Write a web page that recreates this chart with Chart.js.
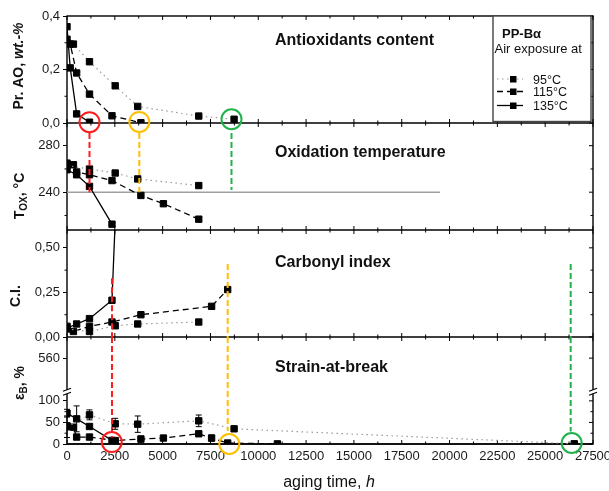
<!DOCTYPE html>
<html><head><meta charset="utf-8">
<script src="https://cdn.jsdelivr.net/npm/chart.js@4"></script>
<style>html,body{margin:0;padding:0;background:#fff;}canvas{display:block;}</style>
</head><body>
<canvas id="c" width="609" height="491"></canvas>
<script>
const FONT = '"Liberation Sans", Arial, Helvetica, sans-serif';

// ---------- data ----------
const xTicks = [0,2500,5000,7500,10000,12500,15000,17500,20000,22500,25000,27500];
const seriesNames = ['95°C', '115°C', '135°C'];

// Antioxidants content, wt.-%
const aoHours95  = [0, 336, 1176, 2520, 3696, 6888, 8736];
const ao95       = [0.30, 0.295, 0.229, 0.139, 0.062, 0.026, 0.014];
const aoHours115 = [0, 168, 504, 1176, 2352, 3864];
const ao115      = [0.313, 0.295, 0.187, 0.108, 0.027, 0.001];
const aoHours135 = [0, 168, 504, 1176];
const ao135      = [0.36, 0.206, 0.034, 0.003];

// Oxidation temperature, °C
const toxHours95  = [0, 1176, 2520, 3696, 6888];
const tox95       = [263, 259.9, 256.5, 251.4, 245.7];
const toxHours115 = [0, 336, 504, 1176, 2352, 3864, 5040, 6888];
const tox115      = [265, 263.6, 257.4, 255, 250, 237.2, 230.1, 216.8];
const toxHours135 = [0, 504, 1176, 2352];
const tox135      = [259.3, 255, 245, 212.5];
const toxRefHours = [0, 19500];
const toxRef      = [240, 240];

// Carbonyl index
const ciHours95  = [0, 1176, 2520, 3696, 6888];
const ci95       = [0.045, 0.031, 0.063, 0.073, 0.084];
const ciHours115 = [0, 336, 1176, 2352, 3864, 7560, 8400];
const ci115      = [0.06, 0.031, 0.06, 0.084, 0.125, 0.172, 0.266];
const ciHours135 = [0, 504, 1176, 2352, 2520];
const ci135      = [0.05, 0.073, 0.103, 0.206, 0.65];

// Strain-at-break, % (with error bars)
const ebHours95  = [0, 1176, 2520, 3696, 6888, 8736, 26520];
const eb95       = [40, 67.5, 46.8, 46, 53.7, 35.2, 0.5];
const ebErr95    = [25, 11.5, 12.7, 19, 13.5, 0, 0];
const ebHours115 = [0, 336, 504, 1176, 2520, 3864, 5040, 6888, 7560, 8400, 11000];
const eb115      = [42, 39, 16.1, 16.1, 8, 11.5, 13.8, 23.7, 13.8, 2.3, 0.3];
const ebErr115   = [0, 0, 0, 0, 0, 7, 0, 0, 7, 0, 0];
const ebHours135 = [0, 504, 1176, 2352];
const eb135      = [71.4, 58.3, 40.6, 8.3];
const ebErr135   = [9, 30, 0, 0];

// end-of-life markers (circles) and guide lines
const markAOHours = [1176, 3780, 8600];
const markAO      = [0.003, 0.004, 0.014];
const markEBHours = [2340, 8485, 26385];
const markEB      = [4.6, 0, 2.3];
const guide1Hours = [1176, 3780, 8600];
const guide1Top   = [291, 291, 291];
const guide1Bot   = [240, 240, 242];
const guide2Hours = [2352, 8400, 26333];
const guide2CITop = [0.33, 0.41, 0.41];
const guide2EBEnd = [15, 30, 29];

// axes
const aoRange = [0, 0.4], aoTicks = [0, 0.2, 0.4], aoLabels = ['0,0', '0,2', '0,4'], aoMinor = [0.1, 0.3];
const tRange = [207.5, 299.5], tTicks = [240, 280], tLabels = ['240', '280'], tMinor = [220, 260];
const ciRange = [0, 0.6], ciTicks = [0, 0.25, 0.5], ciLabels = ['0,00', '0,25', '0,50'], ciMinor = [0.125, 0.375];
const ebRange = [0, 248], ebTicks = [0, 50, 100, 199], ebLabels = ['0', '50', '100', '560'], ebMinor = [25, 75];
const ebBreak = 121;

// ---------- styles ----------
const markColors = ['#ff1c1c', '#ffbf00', '#22b24c'];
const lineStyles = [
  {borderColor: '#9a9a9a', borderDash: [1.5, 3.5], borderWidth: 1.2},
  {borderColor: '#000', borderDash: [6, 4], borderWidth: 1.3},
  {borderColor: '#000', borderDash: [], borderWidth: 1.3}
];
const pts = (xs, ys) => xs.map((x, i) => ({x, y: ys[i]}));
function series(xs, ys, axis, s) {
  return Object.assign({data: pts(xs, ys), yAxisID: axis, pointStyle: 'rect', pointRadius: 4.5,
    pointBackgroundColor: '#000', pointBorderColor: '#000', pointBorderWidth: 1, tension: 0, fill: false}, lineStyles[s]);
}
function guide(x, y1, y2, axis, color) {
  return {data: [{x, y: y1}, {x, y: y2}], yAxisID: axis, borderColor: color, borderDash: [6, 3],
    borderWidth: 2, pointRadius: 0, clip: false, order: -1};
}
function circles(xs, ys, axis) {
  return {data: pts(xs, ys), yAxisID: axis, showLine: false, pointStyle: 'circle', pointRadius: 10,
    pointBorderWidth: 2, pointBackgroundColor: 'rgba(0,0,0,0)',
    pointBorderColor: markColors, clip: false, order: -2};
}

const datasets = [
  series(aoHours95, ao95, 'yAO', 0), series(aoHours115, ao115, 'yAO', 1), series(aoHours135, ao135, 'yAO', 2),
  series(toxHours95, tox95, 'yT', 0), series(toxHours115, tox115, 'yT', 1), series(toxHours135, tox135, 'yT', 2),
  {data: pts(toxRefHours, toxRef), yAxisID: 'yT', borderColor: '#a0a0a0', borderWidth: 1.5, pointRadius: 0, order: 5},
  series(ciHours95, ci95, 'yCI', 0), series(ciHours115, ci115, 'yCI', 1), series(ciHours135, ci135, 'yCI', 2),
  series(ebHours95, eb95, 'yEB', 0), series(ebHours115, eb115, 'yEB', 1), series(ebHours135, eb135, 'yEB', 2),
  circles(markAOHours, markAO, 'yAO'),
  circles(markEBHours, markEB, 'yEB'),
];
guide1Hours.forEach((h, i) => datasets.push(guide(h, guide1Top[i], guide1Bot[i], 'yT', markColors[i])));
guide2Hours.forEach((h, i) => {
  datasets.push(guide(h, guide2CITop[i], ciRange[0], 'yCI', markColors[i]));
  datasets.push(guide(h, ebRange[1], guide2EBEnd[i], 'yEB', markColors[i]));
});

function yAxis(range, vals, labels) {
  return {
    type: 'linear', position: 'left', stack: 'panels', stackWeight: 1, min: range[0], max: range[1],
    afterBuildTicks: ax => { ax.ticks = vals.map(v => ({value: v})); },
    ticks: {callback: v => { const i = vals.indexOf(v); return i >= 0 ? labels[i] : ''; },
      font: {size: 13, family: FONT}, color: '#1a1a1a', padding: 3, autoSkip: false, maxRotation: 0},
    grid: {display: true, drawOnChartArea: false, drawTicks: true, tickLength: 4, color: '#000', lineWidth: 1},
    border: {display: false},
    afterFit: ax => { ax.width = 67; }
  };
}

function seg(ctx, x1, y1, x2, y2) { ctx.beginPath(); ctx.moveTo(x1, y1); ctx.lineTo(x2, y2); ctx.stroke(); }
function rich(ctx, segs, cx, cy, rot) {
  ctx.save(); ctx.translate(cx, cy); if (rot) ctx.rotate(rot);
  let total = 0;
  segs.forEach(s => { ctx.font = s.f; s.w = ctx.measureText(s.t).width; total += s.w; });
  let x = -total / 2; ctx.textAlign = 'left'; ctx.textBaseline = 'alphabetic';
  segs.forEach(s => { ctx.font = s.f; ctx.fillText(s.t, x, s.dy || 0); x += s.w; });
  ctx.restore();
}

const frame = {
  id: 'frame',
  beforeDatasetsDraw(chart) {
    const {ctx, chartArea: a, scales} = chart;
    const xs = scales.x;
    const panels = [scales.yAO, scales.yT, scales.yCI, scales.yEB];
    const majors = [aoTicks, tTicks, ciTicks, ebTicks];
    const minors = [aoMinor, tMinor, ciMinor, ebMinor];
    ctx.save();
    ctx.strokeStyle = '#000'; ctx.lineWidth = 1.4;
    ctx.strokeRect(a.left, a.top, a.right - a.left, a.bottom - a.top);
    panels.forEach(p => seg(ctx, a.left, p.bottom, a.right, p.bottom));
    ctx.lineWidth = 1;
    const bounds = [a.top].concat(panels.map(p => p.bottom));
    const xMinor = xTicks.slice(1).map((v, i) => (v + xTicks[i]) / 2);
    bounds.forEach((y, bi) => {
      const up = bi > 0, down = bi < bounds.length - 1;
      xTicks.forEach(v => { const x = xs.getPixelForValue(v); if (up) seg(ctx, x, y, x, y - 4); if (down) seg(ctx, x, y, x, y + 4); });
      xMinor.forEach(v => { const x = xs.getPixelForValue(v); if (up) seg(ctx, x, y, x, y - 2.5); if (down) seg(ctx, x, y, x, y + 2.5); });
    });
    panels.forEach((p, i) => {
      majors[i].forEach(v => { const y = p.getPixelForValue(v); seg(ctx, a.right, y, a.right - 4, y); });
      minors[i].forEach(v => { const y = p.getPixelForValue(v); seg(ctx, a.left, y, a.left - 2.5, y); seg(ctx, a.right, y, a.right - 2.5, y); });
    });
    // axis break symbols
    const yb = scales.yEB.getPixelForValue(ebBreak);
    [a.left, a.right].forEach(x => {
      ctx.fillStyle = '#fff'; ctx.fillRect(x - 4, yb - 2, 8, 4);
      ctx.lineWidth = 1.2;
      seg(ctx, x - 4, yb - 0.5, x + 4, yb - 3.5);
      seg(ctx, x - 4, yb + 3.5, x + 4, yb + 0.5);
    });
    ctx.restore();
  },
  afterDatasetsDraw(chart) {
    const {ctx, scales} = chart;
    const xs = scales.x, ys = scales.yEB;
    ctx.save(); ctx.strokeStyle = '#000'; ctx.lineWidth = 1;
    [[ebHours95, eb95, ebErr95], [ebHours115, eb115, ebErr115], [ebHours135, eb135, ebErr135]].forEach(([h, v, e]) => {
      h.forEach((t, i) => {
        if (!e[i]) return;
        const x = xs.getPixelForValue(t), y1 = ys.getPixelForValue(v[i] - e[i]), y2 = ys.getPixelForValue(v[i] + e[i]);
        seg(ctx, x, y1, x, y2); seg(ctx, x - 3, y1, x + 3, y1); seg(ctx, x - 3, y2, x + 3, y2);
      });
    });
    ctx.restore();
  },
  afterDraw(chart) {
    const {ctx, chartArea: a, scales} = chart;
    const panels = [scales.yAO, scales.yT, scales.yCI, scales.yEB];
    ctx.save();
    ctx.fillStyle = '#111';
    // panel titles
    const titles = ['Antioxidants content', 'Oxidation temperature', 'Carbonyl index', 'Strain-at-break'];
    const tOff = [29, 34, 36.5, 34.5];
    ctx.font = `bold 16px ${FONT}`; ctx.textAlign = 'left'; ctx.textBaseline = 'alphabetic';
    titles.forEach((t, i) => ctx.fillText(t, 275, panels[i].top + tOff[i]));
    // y titles
    const B = `bold 14px ${FONT}`, BI = `italic bold 14px ${FONT}`, S = `bold 10px ${FONT}`;
    rich(ctx, [{t: 'Pr. AO, ', f: B}, {t: 'wt.-%', f: BI}], 22.5, 66, -Math.PI / 2);
    rich(ctx, [{t: 'T', f: B}, {t: 'OX', f: S, dy: 3}, {t: ', °C', f: B}], 24, 196, -Math.PI / 2);
    rich(ctx, [{t: 'C.I.', f: B}], 20, 296, -Math.PI / 2);
    rich(ctx, [{t: 'ε', f: B}, {t: 'B', f: S, dy: 3}, {t: ', %', f: B}], 24, 383, -Math.PI / 2);
    // x title
    rich(ctx, [{t: 'aging time, ', f: `16px ${FONT}`}, {t: 'h', f: `italic 16px ${FONT}`}], 329, 487, 0);
    // legend
    const bx = a.right - 100, by = a.top, bw = 98, bh = scales.yAO.bottom - 1.5 - a.top;
    ctx.fillStyle = '#fff'; ctx.fillRect(bx, by, bw, bh);
    ctx.strokeStyle = '#444'; ctx.lineWidth = 1.4; ctx.strokeRect(bx, by, bw, bh);
    ctx.fillStyle = '#111'; ctx.textAlign = 'left';
    ctx.font = `bold 13px ${FONT}`; ctx.fillText('PP-Bα', bx + 9, by + 21.5);
    ctx.font = `13px ${FONT}`; ctx.fillText('Air exposure at', bx + 1.5, by + 37);
    const rows = [63, 75.5, 89.5];
    seriesNames.forEach((name, i) => {
      const cy = by + rows[i], st = lineStyles[i];
      ctx.save(); ctx.strokeStyle = st.borderColor; ctx.lineWidth = st.borderWidth; ctx.setLineDash(st.borderDash);
      seg(ctx, bx + 4, cy, bx + 30, cy); ctx.restore();
      ctx.fillStyle = '#000'; ctx.fillRect(bx + 17, cy - 3, 6.5, 6.5);
      ctx.fillStyle = '#111'; ctx.font = `12.5px ${FONT}`; ctx.fillText(name, bx + 40, cy + 4.5);
    });
    ctx.restore();
  }
};

new Chart(document.getElementById('c'), {
  type: 'line',
  data: {datasets},
  plugins: [frame],
  options: {
    responsive: false, animation: false, devicePixelRatio: 1, events: [],
    layout: {padding: {left: 0, top: 16, right: 16, bottom: 0}},
    plugins: {legend: {display: false}, tooltip: {enabled: false}},
    scales: {
      x: {type: 'linear', position: 'bottom', min: 0, max: 27500,
        afterBuildTicks: ax => { ax.ticks = xTicks.map(v => ({value: v})); },
        ticks: {callback: v => String(v), font: {size: 13, family: FONT}, color: '#1a1a1a', padding: 5, maxRotation: 0, autoSkip: false},
        grid: {display: false, drawTicks: false}, border: {display: false},
        afterFit: ax => { ax.height = 47; ax.paddingLeft = 0; ax.paddingRight = 0; }
      },
      yEB: yAxis(ebRange, ebTicks, ebLabels),
      yCI: yAxis(ciRange, ciTicks, ciLabels),
      yT: yAxis(tRange, tTicks, tLabels),
      yAO: yAxis(aoRange, aoTicks, aoLabels)
    }
  }
});
</script>
</body></html>
